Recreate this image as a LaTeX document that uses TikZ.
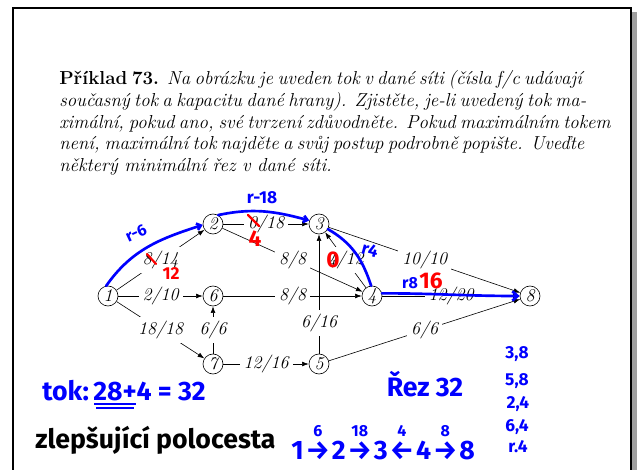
\documentclass[tikz,border=0pt]{standalone}
\usepackage{fontspec}
\usepackage{amsmath}
\usepackage{tikz}
\usetikzlibrary{arrows.meta,positioning}
\newfontfamily\handfont{Fira Sans}
\newcommand{\krok}[2]{$\mathrel{\overset{\text{\fontsize{12}{12}\selectfont #2}}{\text{\kern1.6pt#1\kern1.6pt}}}$}
\newcommand{\radek}[1]{\hbox to 392pt{#1}}

\begin{document}
\begin{tikzpicture}[
  x=0.75pt, y=-0.75pt,
  vrchol/.style={circle, draw, line width=0.45pt, minimum size=15pt, inner sep=0pt,
                 font=\fontsize{13.5}{15}\selectfont\itshape},
  hrana/.style={line width=0.45pt, -{Latex[length=5pt,width=3.6pt]}},
  popis/.style={fill=white, inner sep=3pt, font=\fontsize{13.5}{15}\selectfont\itshape},
  modra/.style={blue, line width=2pt, line cap=round},
  cervena/.style={red, line width=1.6pt, line cap=round},
  rukou/.style={inner sep=0pt, font=\handfont\bfseries\fontsize{#1}{#1}\selectfont},
  rukou/.default=14
]
  \useasboundingbox (0,0) rectangle (639,470);
  % ramecek stranky
  \fill[gray!75] (632,12) rectangle (637,470);
  \draw[line width=1.5pt] (13,470) -- (13,8.5) -- (630.5,8.5) -- (630.5,470);

  % zadani
  \node[anchor=north west, inner sep=0pt, align=left,
        font=\fontsize{14.1}{16.4}\selectfont\itshape] (zadani) at (59,70)
    {\radek{{\upshape\bfseries Příklad 73.} Na obrázku je uveden tok v dané síti (čísla f/c udávají}\\
     \radek{současný tok a kapacitu dané hrany). Zjistěte, je-li uvedený tok ma-}\\
     \radek{ximální, pokud ano, své tvrzení zdůvodněte. Pokud maximálním tokem}\\
     \radek{není, maximální tok najděte a svůj postup podrobně popište. Uveďte}\\
     některý minimální řez v dané síti.};

  % sit
  \node[vrchol] (v1) at (108,296) {1};
  \node[vrchol] (v2) at (213,224) {2};
  \node[vrchol] (v3) at (319,224) {3};
  \node[vrchol] (v4) at (372,296) {4};
  \node[vrchol] (v5) at (319,364) {5};
  \node[vrchol] (v6) at (213,296) {6};
  \node[vrchol] (v7) at (213,364) {7};
  \node[vrchol] (v8) at (530,296) {8};

  \draw[hrana] (v1) -- node[popis] {8/14} (v2);
  \draw[hrana] (v1) -- node[popis] {2/10} (v6);
  \draw[hrana] (v1) -- node[popis] {18/18} (v7);
  \draw[hrana] (v2) -- node[popis] {0/18} (v3);
  \draw[hrana] (v2) -- node[popis] {8/8} (v4);
  \draw[hrana] (v6) -- node[popis] {8/8} (v4);
  \draw[hrana] (v7) -- node[popis] {6/6} (v6);
  \draw[hrana] (v7) -- node[popis] {12/16} (v5);
  \draw[hrana] (v5) -- node[popis, pos=0.26] {6/16} (v3);
  \draw[hrana] (v4) -- node[popis] {4/12} (v3);
  \draw[hrana] (v3) -- node[popis] {10/10} (v8);
  \draw[hrana] (v4) -- node[popis] {12/20} (v8);
  \draw[hrana] (v5) -- node[popis] {6/6} (v8);

  % zlepsujici polocesta (modre)
  \draw[modra, -{Straight Barb[length=3pt,width=5pt]}] (v1.100) to[out=55, in=198] (v2.185);
  \draw[modra, -{Straight Barb[length=3pt,width=5pt]}] (v2.60) to[out=12, in=165] (v3.160);
  \draw[modra] (v3.-30) to[out=-30, in=108] (v4.95);
  \draw[modra, -{Straight Barb[length=4pt,width=7pt]}] (v4.15) to[out=0, in=180] (v8.west);

  \node[rukou=12, blue, rotate=25] (r6) at (136,233) {r-6};
  \node[rukou=13, blue] (r18) at (262,198) {r-18};
  \node[rukou=13, blue, rotate=-15] (r4) at (370,250) {r4};
  \node[rukou=12, blue] (r8) at (410,283) {r8};

  % opravy (cervene)
  \draw[cervena] (147,254) -- (156,264);
  \draw[cervena] (248,215) -- (259,226);
  \node[rukou=13, red] (c12) at (171,274) {12};
  \node[rukou=17, red] (c4) at (255,239) {4};
  \node[rukou=17, red] (c0) at (333,260) {0};
  \node[rukou=17, red] (c16) at (431,281) {16};

  % poznamky dole
  \node[rukou=20, blue, anchor=west] (tok) at (42,391) {tok:\,28+4 = 32};
  \draw[blue, line width=1.3pt] (94,404) -- (136,404);
  \draw[blue, line width=1.3pt] (96,408) -- (134,408);
  \node[rukou=20, anchor=west] (zlep) at (35,440) {zlepšující polocesta};
  \node[rukou=20, blue] (rez) at (425,384) {Řez 32};
  \node[rukou=20, blue, anchor=west] (cesta) at (291,441)
    {1\krok{→}{6}2\krok{→}{18}3\krok{←}{4}4\krok{→}{8}8};

  \node[rukou=13, blue] (h38) at (517,354) {3,8};
  \node[rukou=13, blue] (h58) at (517,381) {5,8};
  \node[rukou=13, blue] (h24) at (518,404) {2,4};
  \node[rukou=13, blue] (h64) at (517,427) {6,4};
  \node[rukou=13, blue] (hr4) at (518,447) {r.4};
\end{tikzpicture}
\end{document}
